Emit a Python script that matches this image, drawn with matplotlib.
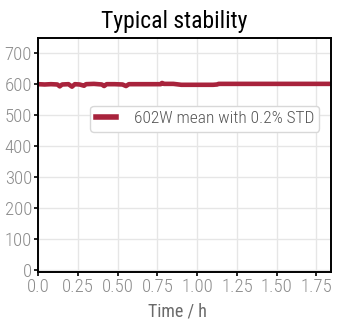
import matplotlib
matplotlib.use("Agg")
import matplotlib.pyplot as plt

# power log, sampled at the points where it changes
time_h = [0.00, 0.04, 0.08, 0.12, 0.135, 0.15, 0.19, 0.212, 0.23, 0.26, 0.288, 0.30,
          0.35, 0.40, 0.414, 0.43, 0.48, 0.53, 0.552, 0.57, 0.62, 0.70, 0.77, 0.779,
          0.79, 0.85, 0.90, 1.00, 1.10, 1.125, 1.135, 1.30, 1.50, 1.70, 1.85]
power_w = [601, 600, 601, 600, 594, 600, 601, 593, 601, 600, 596, 601,
           602, 600, 595, 601, 601, 600, 595, 601, 601, 601, 601, 605,
           602, 602, 599, 599, 599, 600, 602, 602, 602, 602, 602]

label = "602W mean with 0.2% STD"
xticks = [0.0, 0.25, 0.5, 0.75, 1.0, 1.25, 1.5, 1.75]
xticklabels = ["0.0", "0.25", "0.50", "0.75", "1.00", "1.25", "1.50", "1.75"]
yticks = [0, 100, 200, 300, 400, 500, 600, 700]

plt.rcParams["font.family"] = ["Roboto Condensed", "DejaVu Sans"]
plt.rcParams["font.weight"] = 300

fig = plt.figure(figsize=(3.45, 3.30), dpi=100)
ax = fig.add_axes([38.3 / 345, 1 - 272 / 330, (331 - 38.3) / 345, (272 - 38) / 330])

ax.plot(time_h, power_w, color="#a8233c", lw=3.3, label=label)

ax.set_xlim(0, 1.842)
ax.set_ylim(-5, 750)
ax.set_xticks(xticks)
ax.set_xticklabels(xticklabels)
ax.set_yticks(yticks)
ax.grid(True, color="#e6e6e6", lw=1)
ax.set_axisbelow(True)
for s in ax.spines.values():
    s.set_linewidth(1.4)
    s.set_color("black")
ax.tick_params(length=3, width=1.2, color="black", labelcolor="#8c8c8c", labelsize=13.5, pad=1.5)

ax.set_title("Typical stability", fontsize=17, pad=7, x=0.465)
ax.set_xlabel("Time / h", fontsize=13, color="#6a6a6a")
ax.xaxis.set_label_coords(0.474, -0.13)

leg = ax.legend(loc="center right", bbox_to_anchor=(0.99, 0.655), fontsize=12.5,
                handlelength=1.2, handletextpad=1.0, borderpad=0.3, fancybox=True,
                framealpha=1, edgecolor="#d8d8d8")
for t in leg.get_texts():
    t.set_color("#555555")
for h in leg.get_lines():
    h.set_linewidth(4)

fig.savefig("out.png", dpi=100)
